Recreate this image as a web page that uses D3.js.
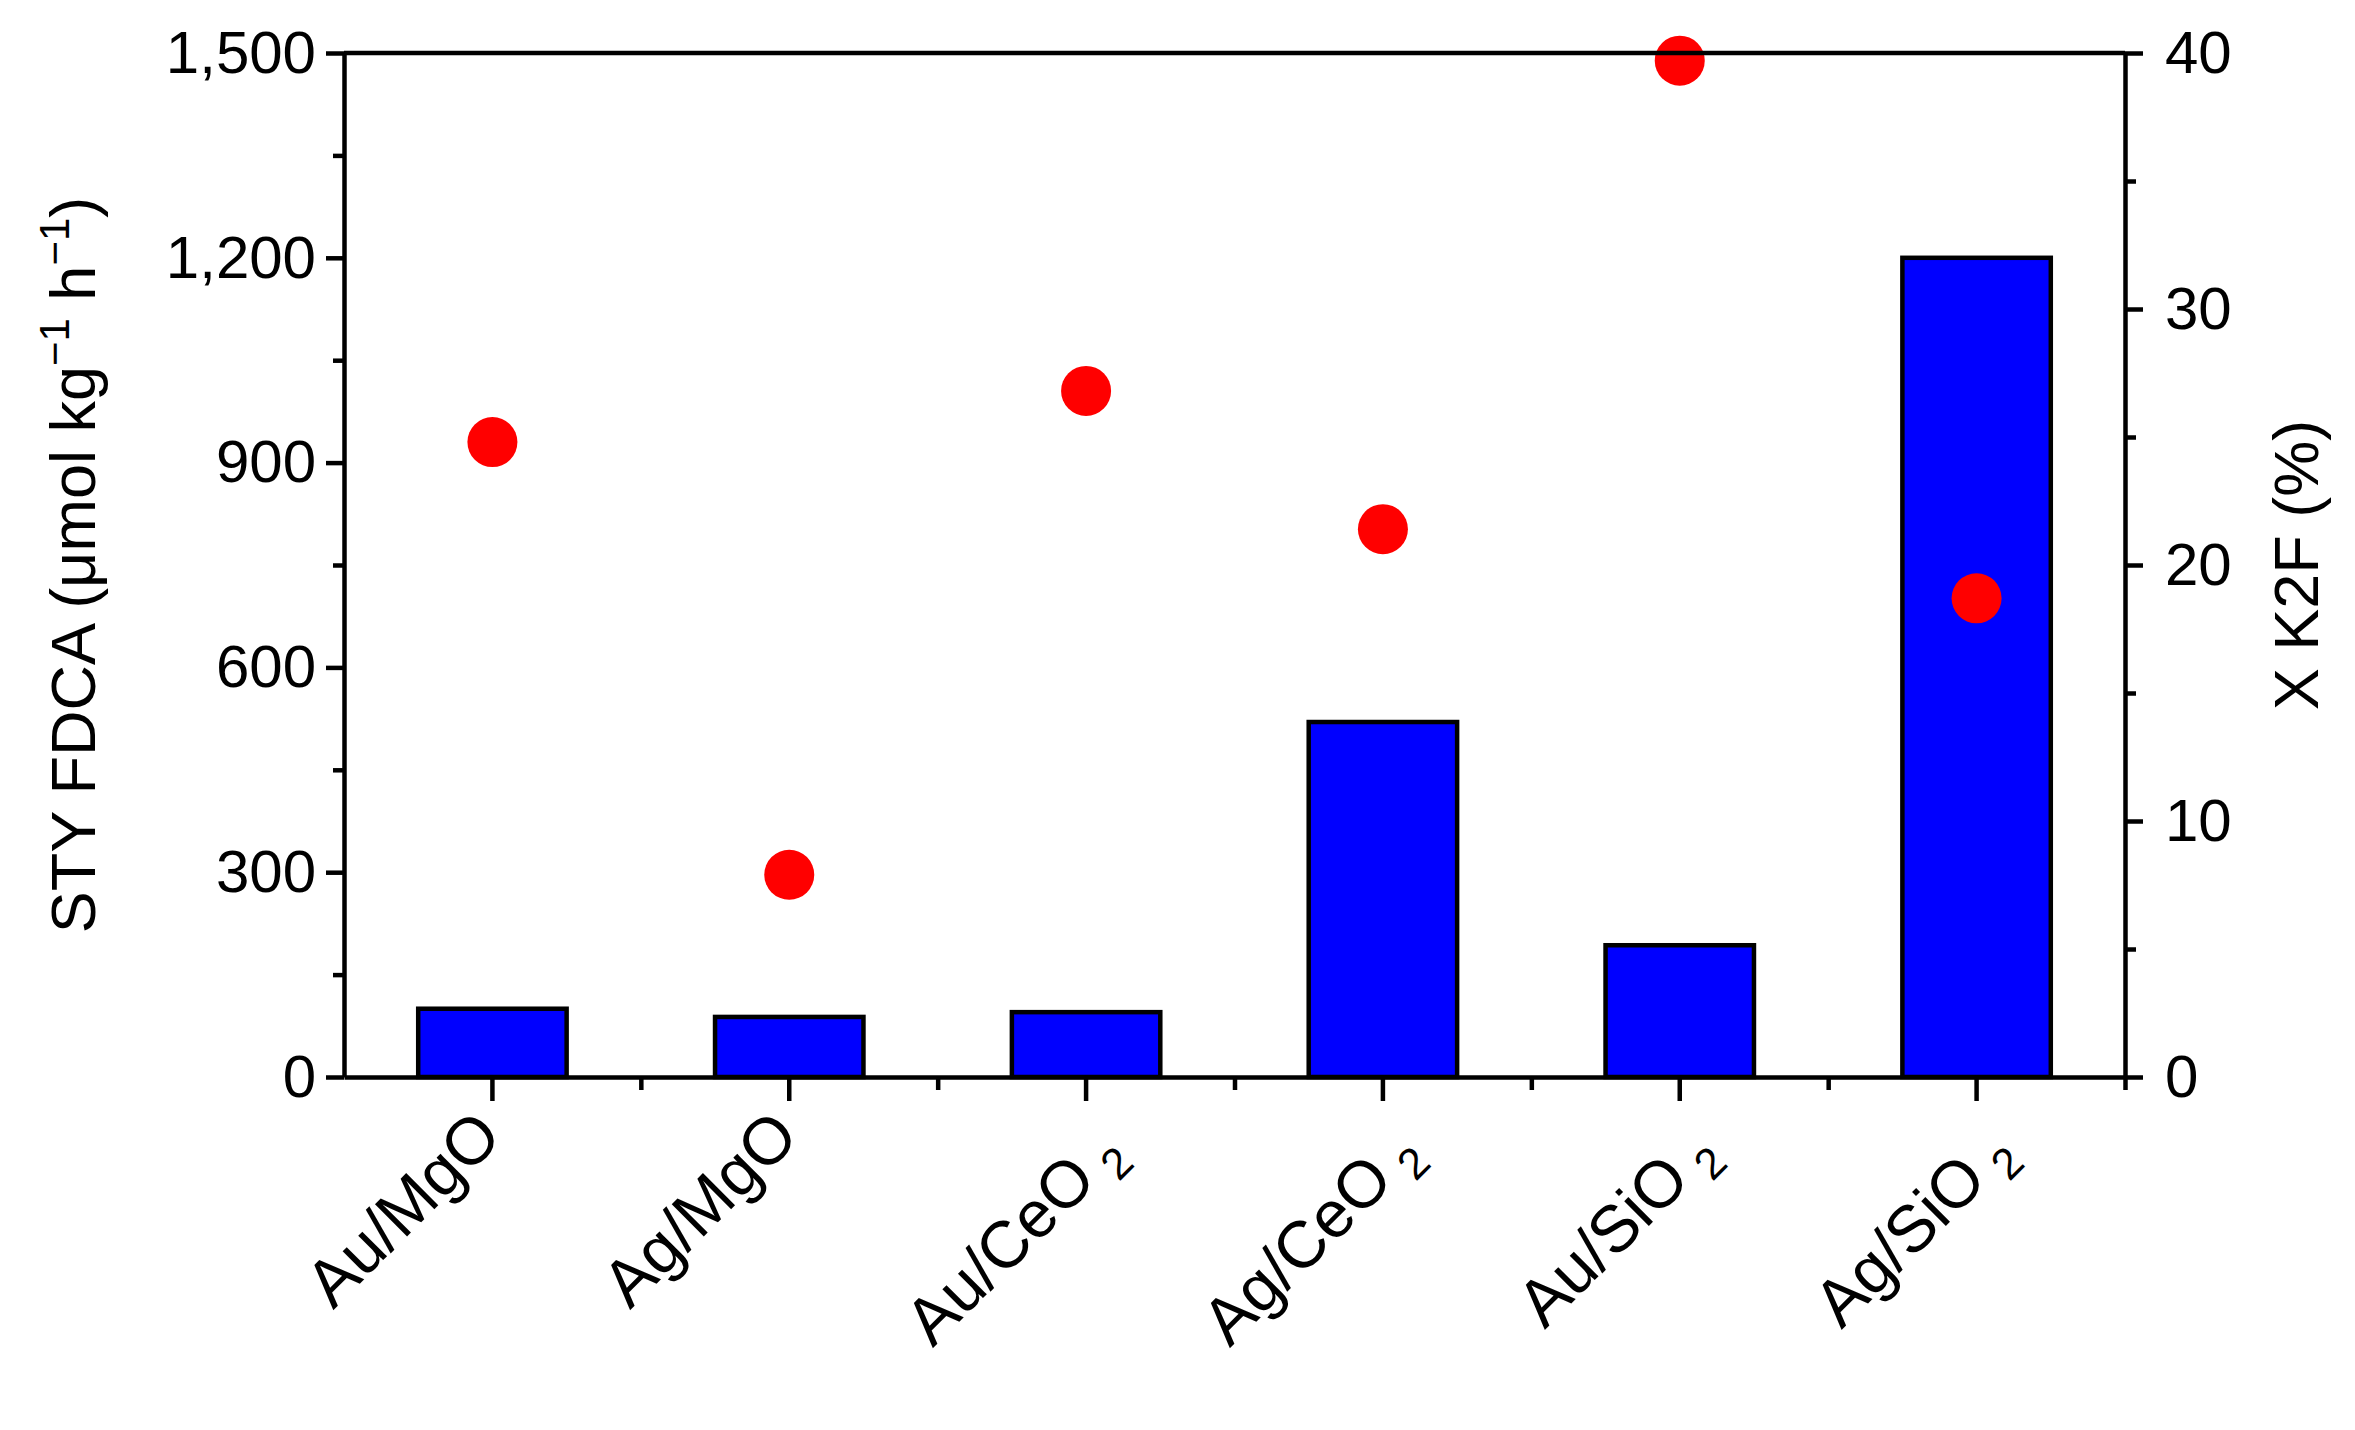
<!DOCTYPE html>
<html><head><meta charset="utf-8">
<script src="https://cdn.jsdelivr.net/npm/d3@7"></script>
<style>body{margin:0;background:#fff}text{font-family:"Liberation Sans",Arial,sans-serif;fill:#000}</style>
</head><body><svg id="c" width="2355" height="1430"></svg>
<script>
var catMain = ['Au/MgO', 'Ag/MgO', 'Au/CeO', 'Ag/CeO', 'Au/SiO', 'Ag/SiO'];
var catSub = ['', '', '2', '2', '2', '2'];
var styValues = [100, 88, 95, 520, 193, 1200];
var convValues = [24.8, 7.9, 26.8, 21.4, 39.7, 18.7];
var leftTicks = [0, 300, 600, 900, 1200, 1500];
var rightTicks = [0, 10, 20, 30, 40];

var m = {l: 344, r: 2125, t: 53, b: 1077};
var svg = d3.select('#c');
var x = d3.scaleBand().domain(d3.range(catMain.length)).range([m.l, m.r]).padding(0);
var y = d3.scaleLinear().domain([0, 1500]).range([m.b, m.t]);
var y2 = d3.scaleLinear().domain([0, 40]).range([m.b, m.t]);
var sw = 4.5;

svg.selectAll('rect.bar').data(styValues).enter().append('rect')
  .attr('x', function(d, i) { return x(i) + x.bandwidth() * 0.25; })
  .attr('width', x.bandwidth() * 0.5)
  .attr('y', function(d) { return y(d); })
  .attr('height', function(d) { return y(0) - y(d); })
  .attr('fill', '#0000ff').attr('stroke', '#000').attr('stroke-width', sw);

svg.selectAll('circle').data(convValues).enter().append('circle')
  .attr('cx', function(d, i) { return x(i) + x.bandwidth() / 2; })
  .attr('cy', function(d) { return y2(d); })
  .attr('r', 25).attr('fill', '#ff0000');

function styleAxis(g) {
  g.selectAll('path').attr('stroke-width', sw);
  g.selectAll('line').attr('stroke-width', sw);
  g.selectAll('text').style('font-size', '60px').style('font-family', '"Liberation Sans",Arial,sans-serif');
}
// minor ticks
svg.append('g').attr('transform', 'translate(' + m.l + ',0)')
  .call(d3.axisLeft(y).tickValues(d3.range(150, 1500, 300)).tickSize(11).tickFormat(''))
  .call(styleAxis).select('path').remove();
svg.append('g').attr('transform', 'translate(' + m.r + ',0)')
  .call(d3.axisRight(y2).tickValues([5, 15, 25, 35]).tickSize(11).tickFormat(''))
  .call(styleAxis).select('path').remove();
svg.append('g').attr('transform', 'translate(0,' + m.b + ')')
  .call(d3.axisBottom(d3.scaleLinear().domain([0, 6]).range([m.l, m.r])).tickValues(d3.range(1, 7)).tickSize(13).tickFormat(''))
  .call(styleAxis).select('path').remove();

svg.append('g').attr('transform', 'translate(' + m.l + ',0)')
  .call(d3.axisLeft(y).tickValues(leftTicks).tickSize(18).tickSizeOuter(0).tickPadding(10))
  .call(styleAxis);
svg.append('g').attr('transform', 'translate(' + m.r + ',0)')
  .call(d3.axisRight(y2).tickValues(rightTicks).tickSize(18).tickSizeOuter(0).tickPadding(22))
  .call(styleAxis);
var xb = svg.append('g').attr('transform', 'translate(0,' + m.b + ')')
  .call(d3.axisBottom(x).tickSize(24).tickSizeOuter(0).tickFormat(''))
  .call(styleAxis);
svg.append('line').attr('x1', m.l).attr('x2', m.r).attr('y1', m.t).attr('y2', m.t)
  .attr('stroke', '#000').attr('stroke-width', sw);

svg.selectAll('text.xl').data(catMain).enter().append('text')
  .attr('class', 'xl')
  .attr('text-anchor', 'end')
  .attr('transform', function(d, i) {
    var cx = x(i) + x.bandwidth() / 2 + (catSub[i] ? 40 : 12);
    return 'translate(' + cx + ',' + (m.b + 62 + (catSub[i] ? 16 : 0)) + ') rotate(-45)';
  })
  .style('font-size', '66px')
  .each(function(d, i) {
    var t = d3.select(this);
    t.append('tspan').text(d);
    if (catSub[i]) {
      t.append('tspan').attr('dx', 14).attr('dy', 14).style('font-size', '44px').text(catSub[i]);
    }
  });

var lt = svg.append('text').attr('text-anchor', 'middle')
  .attr('transform', 'translate(95,' + ((m.t + m.b) / 2) + ') rotate(-90)')
  .style('font-size', '63px');
lt.append('tspan').text('STY FDCA (μmol kg');
lt.append('tspan').attr('dy', -26).style('font-size', '42px').text('−1');
lt.append('tspan').attr('dy', 26).text(' h');
lt.append('tspan').attr('dy', -26).style('font-size', '42px').text('−1');
lt.append('tspan').attr('dy', 26).text(')');

svg.append('text').attr('text-anchor', 'middle')
  .attr('transform', 'translate(2318,' + ((m.t + m.b) / 2) + ') rotate(-90)')
  .style('font-size', '63px').text('X K2F (%)');
</script></body></html>
